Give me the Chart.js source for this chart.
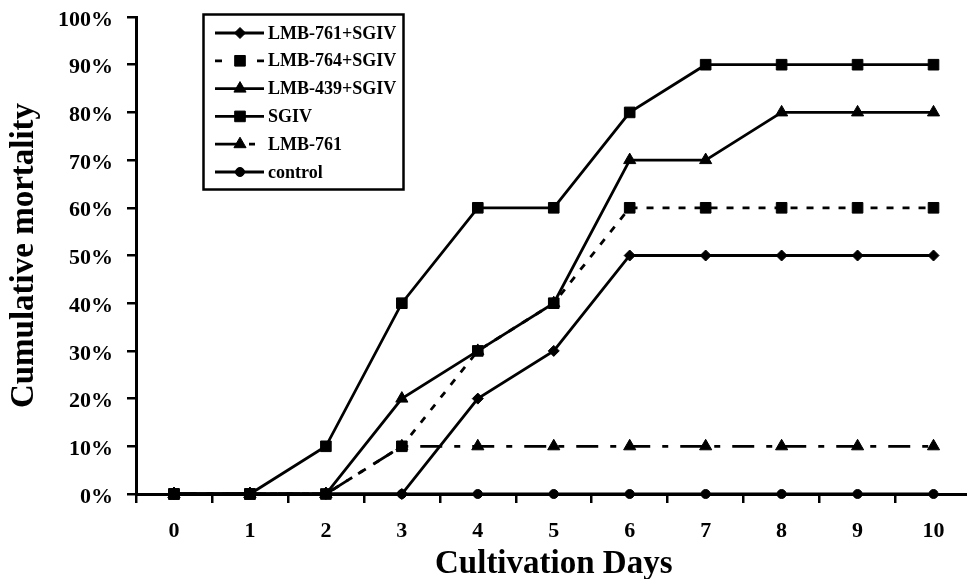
<!DOCTYPE html>
<html><head><meta charset="utf-8">
<style>
html,body{margin:0;padding:0;overflow:hidden;background:#fff;width:967px;height:579px}
#wrap{position:relative;width:980px;height:579px}
</style>
<script src="https://cdn.jsdelivr.net/npm/chart.js@4"></script>
</head><body><div id="wrap"><canvas id="c" width="980" height="579"></canvas></div>
<script>
// ---- data (cumulative mortality, %) ----
const days = ['0','1','2','3','4','5','6','7','8','9','10'];
const seriesNames = ['LMB-761+SGIV','LMB-764+SGIV','LMB-439+SGIV','SGIV','LMB-761','control'];
const lmb761sgiv = [0,0,0,0,20,30,50,50,50,50,50];
const lmb764sgiv = [0,0,0,10,30,40,60,60,60,60,60];
const lmb439sgiv = [0,0,0,20,30,40,70,70,80,80,80];
const sgiv       = [0,0,10,40,60,60,80,90,90,90,90];
const lmb761     = [0,0,0,10,10,10,10,10,10,10,10];
const control    = [0,0,0,0,0,0,0,0,0,0,0];
const yTicks = [0,10,20,30,40,50,60,70,80,90,100];
const xTitle = 'Cultivation Days';
const yTitle = 'Cumulative mortality';

const FAMILY = '"Liberation Serif","Times New Roman",Times,serif';

const styles = [
  {pointStyle:'rectRot', pointRadius:5.5, borderDash:[], legendDash:[]},
  {pointStyle:'rect', pointRadius:7.5, borderDash:[7,9], legendDash:[7,35]},
  {pointStyle:'triangle', pointRadius:7, borderDash:[], legendDash:[]},
  {pointStyle:'rect', pointRadius:7.5, borderDash:[], legendDash:[]},
  {pointStyle:'triangle', pointRadius:7, borderDash:[22,12,6,12], legendDash:[22,12,6,12]},
  {pointStyle:'circle', pointRadius:4.5, borderDash:[], legendDash:[]}
];
const values = [lmb761sgiv, lmb764sgiv, lmb439sgiv, sgiv, lmb761, control];

const datasets = values.map((v,i)=>({
  label: seriesNames[i],
  data: v,
  borderColor:'#000',
  backgroundColor:'#000',
  pointBackgroundColor:'#000',
  pointBorderColor:'#000',
  borderWidth:2.8,
  pointBorderWidth:1,
  pointStyle: styles[i].pointStyle,
  pointRadius: styles[i].pointRadius,
  borderDash: styles[i].borderDash,
  tension:0,
  clip:false
}));

const legendBox = {
  id:'legendBox',
  afterDraw(chart){
    const ctx = chart.ctx;
    ctx.save();
    ctx.fillStyle = '#fff';
    ctx.fillRect(203,14,201,176);
    ctx.strokeStyle = '#000';
    ctx.lineWidth = 2.5;
    ctx.strokeRect(203.5,14.5,200,175);
    chart.data.datasets.forEach((ds,i)=>{
      const y = 33 + i*27.8;
      ctx.save();
      ctx.strokeStyle = '#000';
      ctx.lineWidth = 2.8;
      ctx.setLineDash(styles[i].legendDash);
      ctx.beginPath();
      ctx.moveTo(215,y);
      ctx.lineTo(264,y);
      ctx.stroke();
      ctx.setLineDash([]);
      ctx.fillStyle = '#000';
      ctx.lineWidth = 1;
      Chart.helpers.drawPoint(ctx,{pointStyle:ds.pointStyle,radius:ds.pointRadius,borderWidth:1,rotation:0},240,y);
      ctx.restore();
      ctx.fillStyle = '#000';
      ctx.font = 'bold 18px ' + FAMILY;
      ctx.textAlign = 'left';
      ctx.textBaseline = 'middle';
      ctx.fillText(ds.label, 268, y+1);
    });
    ctx.restore();
  }
};

new Chart(document.getElementById('c'), {
  type:'line',
  data:{labels:days, datasets},
  options:{
    responsive:false,
    animation:false,
    events:[],
    layout:{padding:{top:17,right:0,left:0,bottom:0}},
    plugins:{legend:{display:false}, tooltip:{enabled:false}},
    scales:{
      x:{
        type:'category',
        offset:true,
        grid:{display:true, offset:true, drawOnChartArea:false, drawTicks:true, tickLength:9, color:'#000', lineWidth:2.5},
        border:{display:true, color:'#000', width:3},
        ticks:{color:'#000', padding:15, maxRotation:0, autoSkip:false, font:{family:FAMILY, weight:'bold', size:22}},
        title:{display:true, text:xTitle, color:'#000', padding:{top:0,bottom:0}, font:{family:FAMILY, weight:'bold', size:33, lineHeight:0.9}},
        afterFit(s){ s.height = 85; s.paddingLeft = 0; s.paddingRight = 0; }
      },
      y:{
        min:0, max:100,
        afterBuildTicks(s){ s.ticks = yTicks.map(v=>({value:v})); },
        grid:{display:true, drawOnChartArea:false, drawTicks:true, tickLength:9, color:'#000', lineWidth:2.5},
        border:{display:true, color:'#000', width:3},
        ticks:{color:'#000', padding:14, labelOffset:3, font:{family:FAMILY, weight:'bold', size:22}, callback:(v)=>v+'%'},
        title:{display:true, text:yTitle, color:'#000', padding:{top:10,bottom:0}, font:{family:FAMILY, weight:'bold', size:33, lineHeight:0.9}},
        afterFit(s){ s.width = 136; s.paddingTop = 0; s.paddingBottom = 0; }
      }
    }
  },
  plugins:[legendBox]
});
</script></body></html>
